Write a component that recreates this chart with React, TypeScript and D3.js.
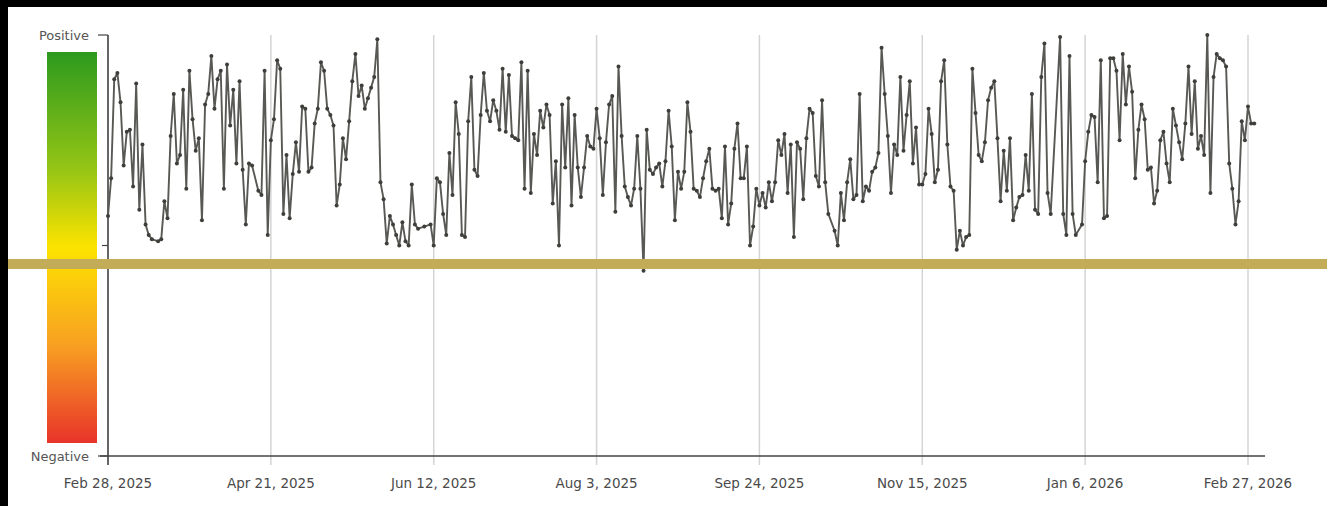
import React from "react";
import * as d3 from "d3";

// daily sentiment readings: [day offset from Feb 28, 2025, score -1..1]
const springReadings: [number, number][] = [
  [0, 0.14], [1, 0.32], [2, 0.79], [3, 0.82], [4, 0.68], [5, 0.38], [6, 0.54], [7, 0.55], [8, 0.28], [9, 0.77],
  [10, 0.17], [11, 0.48], [12, 0.1], [13, 0.05], [14, 0.03], [16, 0.02], [17, 0.03], [18, 0.21], [19, 0.13], [20, 0.52],
  [21, 0.72], [22, 0.39], [23, 0.43], [24, 0.74], [25, 0.27], [26, 0.83], [27, 0.6], [28, 0.45], [29, 0.51], [30, 0.12],
  [31, 0.67], [32, 0.72], [33, 0.9], [34, 0.65], [35, 0.79], [36, 0.83], [37, 0.27], [38, 0.86], [39, 0.57], [40, 0.74],
  [41, 0.39], [42, 0.78], [43, 0.36], [44, 0.1], [45, 0.39], [46, 0.38], [48, 0.26], [49, 0.24], [50, 0.83], [51, 0.05],
  [52, 0.5], [53, 0.6], [54, 0.88], [55, 0.84], [56, 0.15], [57, 0.43], [58, 0.13], [59, 0.34], [60, 0.49], [61, 0.35],
  [62, 0.66], [63, 0.65], [64, 0.35], [65, 0.37], [66, 0.58], [67, 0.65], [68, 0.87], [69, 0.83], [70, 0.65], [71, 0.62],
  [72, 0.57], [73, 0.19], [74, 0.29], [75, 0.51], [76, 0.41], [77, 0.59], [78, 0.78], [79, 0.91], [80, 0.71], [81, 0.76],
  [82, 0.65], [83, 0.7], [84, 0.75], [85, 0.8], [86, 0.98], [87, 0.3], [88, 0.22], [89, 0.01], [90, 0.14], [91, 0.1],
];
const summerReadings: [number, number][] = [
  [92, 0.05], [93, 0.0], [94, 0.11], [95, 0.02], [96, 0.0], [97, 0.29], [98, 0.1], [99, 0.08], [101, 0.09], [103, 0.1],
  [104, 0.0], [105, 0.32], [106, 0.3], [107, 0.15], [108, 0.05], [109, 0.44], [110, 0.24], [111, 0.68], [112, 0.53], [113, 0.05],
  [114, 0.04], [115, 0.59], [116, 0.8], [117, 0.36], [118, 0.33], [119, 0.62], [120, 0.82], [121, 0.64], [122, 0.59], [123, 0.69],
  [124, 0.64], [125, 0.55], [126, 0.84], [127, 0.54], [128, 0.81], [129, 0.52], [130, 0.51], [131, 0.5], [132, 0.87], [133, 0.27],
  [134, 0.83], [135, 0.25], [136, 0.53], [137, 0.43], [138, 0.64], [139, 0.56], [140, 0.67], [141, 0.62], [142, 0.2], [143, 0.4],
  [144, 0.0], [145, 0.67], [146, 0.37], [147, 0.7], [148, 0.19], [149, 0.62], [150, 0.37], [151, 0.23], [152, 0.37], [153, 0.52],
  [154, 0.47], [155, 0.46], [156, 0.65], [157, 0.51], [158, 0.24], [159, 0.49], [160, 0.67], [161, 0.71], [162, 0.16], [163, 0.85],
  [164, 0.52], [165, 0.28], [166, 0.23], [167, 0.19], [168, 0.27], [169, 0.52], [170, 0.27], [171, -0.12], [172, 0.55], [173, 0.36],
  [174, 0.34], [175, 0.37], [176, 0.39], [177, 0.28], [178, 0.4], [179, 0.64], [180, 0.47], [181, 0.12], [182, 0.35], [183, 0.27],
];
const autumnReadings: [number, number][] = [
  [184, 0.35], [185, 0.68], [186, 0.54], [187, 0.27], [188, 0.26], [189, 0.23], [190, 0.32], [191, 0.4], [192, 0.46], [193, 0.27],
  [194, 0.26], [195, 0.27], [196, 0.13], [197, 0.47], [198, 0.1], [199, 0.2], [200, 0.46], [201, 0.58], [202, 0.32], [203, 0.32],
  [204, 0.47], [205, 0.0], [206, 0.09], [207, 0.27], [208, 0.19], [209, 0.25], [210, 0.18], [211, 0.3], [212, 0.21], [213, 0.3],
  [214, 0.5], [215, 0.43], [216, 0.53], [217, 0.25], [218, 0.48], [219, 0.04], [220, 0.49], [221, 0.46], [222, 0.22], [223, 0.51],
  [224, 0.65], [225, 0.63], [226, 0.33], [227, 0.28], [228, 0.69], [229, 0.3], [230, 0.15], [232, 0.07], [233, 0.0], [234, 0.25],
  [235, 0.12], [236, 0.3], [237, 0.41], [238, 0.22], [239, 0.24], [240, 0.72], [241, 0.21], [242, 0.28], [243, 0.26], [244, 0.35],
  [245, 0.37], [246, 0.44], [247, 0.94], [248, 0.72], [249, 0.52], [250, 0.25], [251, 0.48], [252, 0.43], [253, 0.8], [254, 0.45],
  [255, 0.62], [256, 0.78], [257, 0.39], [258, 0.56], [259, 0.29], [260, 0.29], [261, 0.34], [262, 0.65], [263, 0.53], [264, 0.3],
  [265, 0.36], [266, 0.78], [267, 0.88], [268, 0.48], [269, 0.28], [270, 0.26], [271, -0.02], [272, 0.07], [273, 0.0], [274, 0.04],
  [275, 0.05],
];
const winterReadings: [number, number][] = [
  [276, 0.84], [277, 0.63], [278, 0.43], [279, 0.4], [280, 0.49], [281, 0.69], [282, 0.75], [283, 0.78], [284, 0.51], [285, 0.21],
  [286, 0.45], [287, 0.26], [288, 0.51], [289, 0.12], [290, 0.18], [291, 0.23], [292, 0.24], [293, 0.43], [294, 0.26], [295, 0.72],
  [296, 0.17], [297, 0.15], [298, 0.8], [299, 0.96], [300, 0.25], [301, 0.15], [304, 0.99], [305, 0.15], [306, 0.05], [307, 0.9],
  [308, 0.15], [309, 0.05], [311, 0.1], [312, 0.4], [313, 0.54], [314, 0.62], [315, 0.61], [316, 0.3], [317, 0.88], [318, 0.13],
  [319, 0.14], [320, 0.89], [321, 0.89], [322, 0.83], [323, 0.5], [324, 0.91], [325, 0.67], [326, 0.85], [327, 0.73], [328, 0.32],
  [329, 0.55], [330, 0.67], [331, 0.6], [332, 0.36], [333, 0.37], [334, 0.2], [335, 0.26], [336, 0.5], [337, 0.54], [338, 0.39],
  [339, 0.3], [340, 0.65], [341, 0.57], [342, 0.49], [343, 0.41], [344, 0.58], [345, 0.85], [346, 0.53], [347, 0.78], [348, 0.46],
  [349, 0.52], [350, 0.43], [351, 1.0], [352, 0.25], [353, 0.8], [354, 0.91], [355, 0.89], [356, 0.88], [357, 0.85], [358, 0.39],
  [359, 0.27], [360, 0.1], [361, 0.21], [362, 0.59], [363, 0.5], [364, 0.66], [365, 0.58], [366, 0.58],
];

const tickDates = ["2025-02-28", "2025-04-21", "2025-06-12", "2025-08-03", "2025-09-24", "2025-11-15", "2026-01-06", "2026-02-27"];
const tickLabels = ["Feb 28, 2025", "Apr 21, 2025", "Jun 12, 2025", "Aug 3, 2025", "Sep 24, 2025", "Nov 15, 2025", "Jan 6, 2026", "Feb 27, 2026"];
const yLabels = ["Negative", "", "Positive"];
const yTicks = [-1, 0, 1];

const W = 1327;
const H = 506;
const left = 108;
const right = 1248;
const axisEnd = 1265;
const top = 35;
const bottom = 456;
const font = "'DejaVu Sans', Verdana, sans-serif";

const startMs = Date.UTC(2025, 1, 28);
const dayDate = (d: number) => new Date(startMs + d * 864e5);

export default function App() {
  const readings = [...springReadings, ...summerReadings, ...autumnReadings, ...winterReadings];
  const ticks = tickDates.map((s) => new Date(s + "T00:00:00Z"));

  const x = d3.scaleUtc().domain([ticks[0], ticks[ticks.length - 1]]).range([left, right]);
  const y = d3.scaleLinear().domain([-1, 1]).range([bottom, top]);

  const line = d3
    .line<[number, number]>()
    .x((p) => x(dayDate(p[0])))
    .y((p) => y(p[1]));

  return (
    <svg width={W} height={H} style={{ position: "fixed", left: 0, top: 0, background: "#fff" }}>
      <defs>
        <linearGradient id="sent" x1="0" y1="0" x2="0" y2="1">
          <stop offset="0" stopColor="#2c9a1e" />
          <stop offset="0.3" stopColor="#95c515" />
          <stop offset="0.5" stopColor="#fde300" />
          <stop offset="0.75" stopColor="#f8a022" />
          <stop offset="1" stopColor="#e8332a" />
        </linearGradient>
      </defs>
      <rect x={0} y={0} width={W} height={H} fill="#fff" />

      {/* legend bar */}
      <rect x={47} y={52} width={50} height={391} fill="url(#sent)" />

      {/* grid lines */}
      {ticks.slice(1).map((t, i) => (
        <line key={i} x1={x(t)} x2={x(t)} y1={top} y2={bottom + 9} stroke="#d4d4d4" strokeWidth={1.5} />
      ))}

      {/* axes */}
      <line x1={left} x2={left} y1={top} y2={bottom + 9} stroke="#333" strokeWidth={1.5} />
      <line x1={left - 8} x2={axisEnd} y1={bottom} y2={bottom} stroke="#444" strokeWidth={1.5} />
      {yTicks.map((v, i) => (
        <g key={i}>
          <line x1={i === 1 ? left - 6 : left - 10} x2={left} y1={y(v)} y2={y(v)} stroke="#444" strokeWidth={1.2} />
          {yLabels[i] && (
            <text x={89} y={y(v)} dy="0.35em" textAnchor="end" fontFamily={font} fontSize={13} fill="#555">
              {yLabels[i]}
            </text>
          )}
        </g>
      ))}
      {ticks.map((t, i) => (
        <text key={i} x={x(t)} y={488} textAnchor="middle" fontFamily={font} fontSize={13.5} fill="#4a4a4a">
          {tickLabels[i]}
        </text>
      ))}

      {/* series */}
      <path d={line(readings) || ""} fill="none" stroke="#585854" strokeWidth={1.9} strokeLinejoin="round" />
      {readings.map((p, i) => (
        <circle key={i} cx={x(dayDate(p[0]))} cy={y(p[1])} r={2} fill="#3e3e3b" />
      ))}

      {/* overlay band and frame */}
      <rect x={0} y={259} width={W} height={10} fill="#c3ac57" />
      <rect x={0} y={0} width={W} height={7} fill="#000" />
      <rect x={0} y={0} width={8} height={H} fill="#000" />
    </svg>
  );
}
